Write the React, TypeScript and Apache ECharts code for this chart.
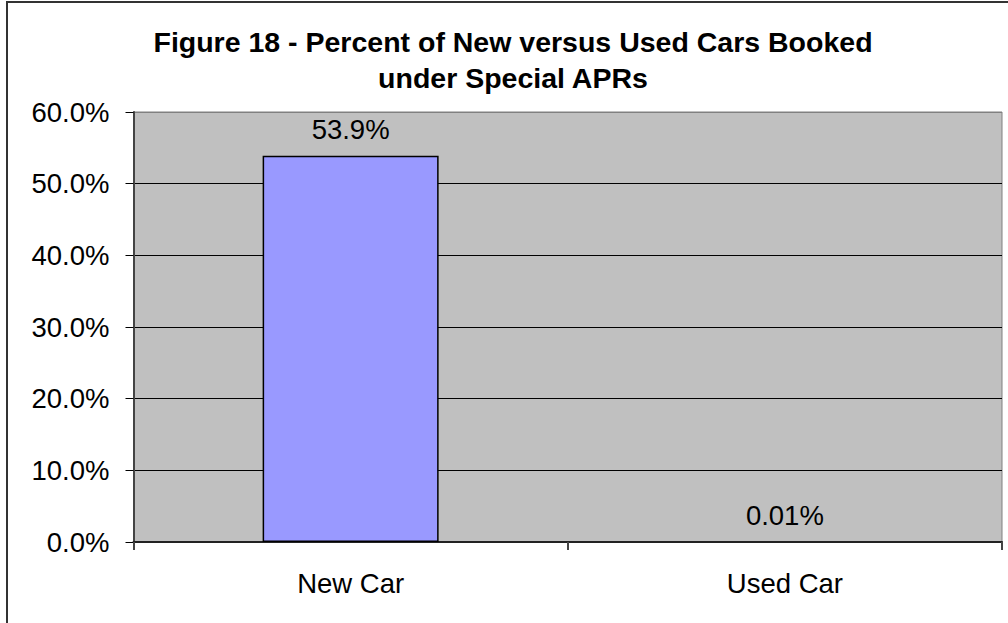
import React, { useEffect, useRef } from "react";
import * as echarts from "echarts";

const categories = ["New Car", "Used Car"];
const values = [53.9, 0.01];
const yTicks = { min: 0, max: 60, interval: 10 };
const titleLines = ["Figure 18 - Percent of New versus Used Cars Booked", "under Special APRs"];

const FONT = "'Liberation Sans', Arial, sans-serif";

export default function App() {
  const ref = useRef<HTMLDivElement>(null);
  useEffect(() => {
    document.body.style.margin = "0";
    const chart = echarts.init(ref.current!, null, { renderer: "svg" });
    chart.setOption({
      animation: false,
      backgroundColor: "#fff",
      title: {
        text: titleLines.join("\n"),
        left: 513,
        textAlign: "center",
        top: 24,
        padding: 0,
        textStyle: {
          fontFamily: FONT,
          fontSize: 28.5,
          fontWeight: "bold",
          color: "#000",
          lineHeight: 36,
        },
      },
      graphic: [
        {
          type: "rect",
          shape: { x: 7, y: 2, width: 1020, height: 640 },
          style: { fill: "none", stroke: "#333", lineWidth: 2 },
          silent: true,
        },
      ],
      grid: {
        left: 133.5,
        top: 112,
        right: 6,
        bottom: 81,
        show: true,
        backgroundColor: "#C0C0C0",
        borderColor: "#808080",
        borderWidth: 1,
      },
      xAxis: {
        type: "category",
        data: categories,
        axisLine: { show: true, lineStyle: { color: "#222", width: 2 } },
        axisTick: { show: true, length: 8, lineStyle: { color: "#444", width: 2 } },
        axisLabel: { fontFamily: FONT, fontSize: 27.5, color: "#000", margin: 27 },
        splitLine: { show: false },
      },
      yAxis: {
        type: "value",
        min: yTicks.min,
        max: yTicks.max,
        interval: yTicks.interval,
        axisLine: { show: true, lineStyle: { color: "#444", width: 2 } },
        axisTick: { show: true, length: 8, lineStyle: { color: "#000", width: 1 } },
        axisLabel: {
          fontFamily: FONT,
          fontSize: 27.5,
          color: "#000",
          margin: 24,
          formatter: (v: number) => v.toFixed(1) + "%",
        },
        splitLine: {
          show: true,
          lineStyle: {
            color: ["#000", "#000", "#000", "#000", "#000", "#000", "#808080"],
            width: 1,
          },
        },
      },
      series: [
        {
          type: "bar",
          data: values.map((v) => ({
            value: v,
            itemStyle: v < 1 ? { borderWidth: 0 } : undefined,
          })),
          barWidth: 176,
          itemStyle: { color: "#9999FF", borderColor: "#000", borderWidth: 1.5 },
          label: {
            show: true,
            position: "top",
            distance: 12,
            fontFamily: FONT,
            fontSize: 27.5,
            color: "#000",
            formatter: (p: any) => p.value + "%",
          },
        },
      ],
    });
    return () => chart.dispose();
  }, []);
  return <div ref={ref} style={{ width: 1008, height: 623 }} />;
}
